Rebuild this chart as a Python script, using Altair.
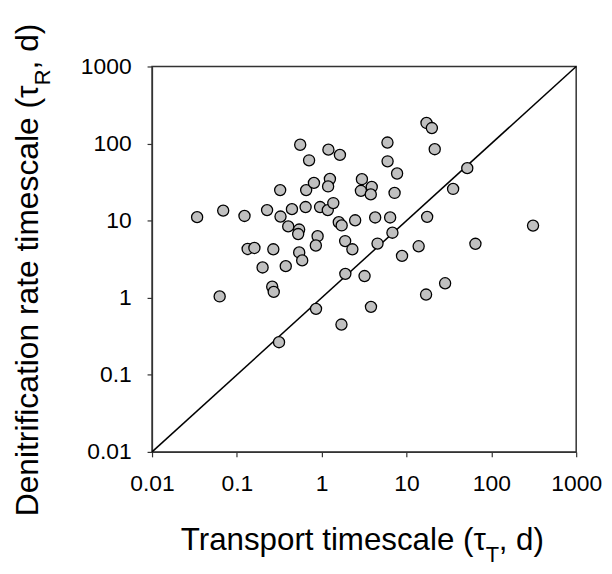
import altair as alt
import pandas as pd

# Transport timescale (tau_T, d) and denitrification rate timescale (tau_R, d)
tau_T = [0.034, 0.069, 0.123, 0.227, 0.324, 0.327, 0.446, 0.403, 0.558, 1.2,
         1.64, 0.71, 0.656, 0.81, 1.25, 1.19, 0.646, 0.957, 1.18, 1.37,
         0.542, 0.528, 1.59, 1.72, 0.895, 0.853, 1.89, 2.48, 5.96, 5.98,
         7.74, 2.98, 3.89, 2.9, 3.79, 7.23, 4.27, 6.41, 17.5, 6.82,
         17.2, 19.9, 21.5, 52, 35.4, 310, 2.3, 4.55, 13.9, 64.9,
         8.85, 28.5, 17.0, 0.134, 0.161, 0.269, 0.201, 0.377, 0.261, 0.272,
         0.0627, 0.314, 0.543, 0.589, 1.9, 3.2, 0.857, 3.81, 1.71]
tau_R = [11.1, 13.5, 11.5, 13.7, 24.9, 11.3, 14.1, 8.42, 96.5, 83.4,
         71.3, 60.6, 24.9, 30.9, 34.7, 27.8, 15.0, 15.0, 13.7, 16.9,
         7.66, 6.70, 9.53, 8.67, 6.29, 4.76, 5.43, 10.1, 103, 58.8,
         40.9, 34.5, 27.4, 24.4, 21.9, 22.9, 11.0, 11.0, 11.2, 6.98,
         185, 159, 84.5, 48.0, 25.8, 8.62, 4.25, 5.04, 4.65, 5.01,
         3.49, 1.54, 1.10, 4.29, 4.42, 4.25, 2.47, 2.57, 1.39, 1.19,
         1.04, 0.265, 3.87, 3.05, 2.04, 1.91, 0.717, 0.761, 0.449]

# 1:1 reference line end points
line_vals = [0.01, 1000]
tick_vals = [0.01, 0.1, 1, 10, 100, 1000]

FONT = "Liberation Sans"
W, H = 427, 388

pts = pd.DataFrame({"tT": tau_T, "tR": tau_R})
ref = pd.DataFrame({"a": line_vals, "b": line_vals})

xscale = alt.Scale(type="log", domain=[0.01, 1000], nice=False)
yscale = alt.Scale(type="log", domain=[0.01, 1000], nice=False)

def mk_axis():
    return alt.Axis(values=tick_vals, format="~g", title=None, grid=False,
                    labelFontSize=23, labelFont=FONT, labelColor="black",
                    labelPadding=16, tickSize=5, tickColor="#333", domainColor="#333",
                    labelFlush=False, labelOverlap=False)

line = alt.Chart(ref).mark_line(color="black", strokeWidth=1.5).encode(
    x=alt.X("a:Q", scale=xscale, axis=mk_axis()),
    y=alt.Y("b:Q", scale=yscale, axis=mk_axis()),
)

points = alt.Chart(pts).mark_point(
    shape="circle", filled=True, size=125, fill="#c0c0c0",
    stroke="black", strokeWidth=1.3, opacity=1,
).encode(
    x=alt.X("tT:Q", scale=xscale, axis=mk_axis()),
    y=alt.Y("tR:Q", scale=yscale, axis=mk_axis()),
)

one = alt.Data(values=[{}])
TF = 31.5
SF = 22

# X title with subscript T
XB = 487
XE = 336
xt1 = alt.Chart(one).mark_text(text="Transport timescale (\u03c4", font=FONT, fontSize=TF,
                               align="right", baseline="alphabetic", color="black").encode(
    x=alt.value(XE), y=alt.value(XB))
xt2 = alt.Chart(one).mark_text(text="T", font=FONT, fontSize=SF,
                               align="left", baseline="alphabetic", color="black").encode(
    x=alt.value(XE), y=alt.value(XB + 12))
xt3 = alt.Chart(one).mark_text(text=", d)", font=FONT, fontSize=TF,
                               align="left", baseline="alphabetic", color="black").encode(
    x=alt.value(XE + 13), y=alt.value(XB))

# Y title with subscript R (rotated)
YT = 32
YE = 19     # end of the tau glyph (plot coords)
YX = -115   # baseline
yt1 = alt.Chart(one).mark_text(text="Denitrification rate timescale (\u03c4", font=FONT, fontSize=YT,
                               align="right", baseline="alphabetic", angle=270, color="black").encode(
    x=alt.value(YX), y=alt.value(YE))
yt2 = alt.Chart(one).mark_text(text="R", font=FONT, fontSize=SF,
                               align="left", baseline="alphabetic", angle=270, color="black").encode(
    x=alt.value(YX + 12), y=alt.value(YE))
yt3 = alt.Chart(one).mark_text(text=", d)", font=FONT, fontSize=YT,
                               align="left", baseline="alphabetic", angle=270, color="black").encode(
    x=alt.value(YX), y=alt.value(YE - 16))

chart = alt.layer(line, points, xt1, xt2, xt3, yt1, yt2, yt3).properties(
    width=W, height=H,
    autosize=alt.AutoSizeParams(type="none"),
    padding={"left": 145, "top": 57, "right": 28, "bottom": 113},
).configure_view(stroke="#333", strokeWidth=1.5).configure_axis(domainWidth=1.2, tickWidth=1.2)

chart.save("out.html", embed_options={"renderer": "svg", "actions": False})
